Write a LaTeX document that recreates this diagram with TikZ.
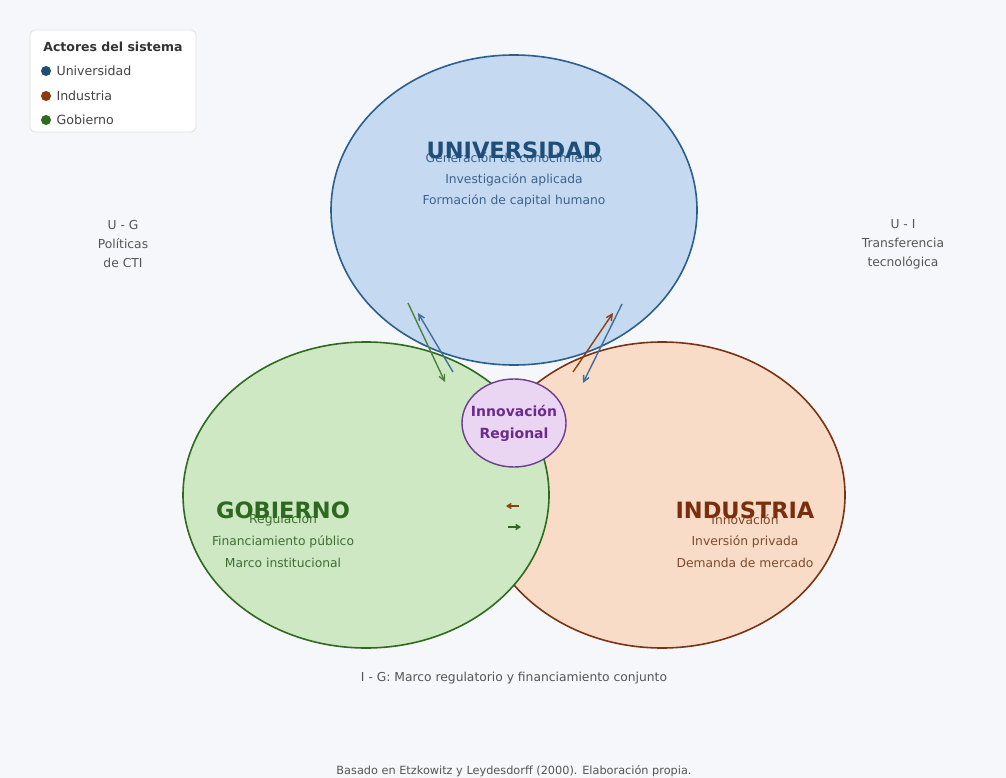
\documentclass[tikz,border=0pt]{standalone}
\usepackage{fontspec}
\setmainfont{DejaVu Sans}
\usetikzlibrary{shapes.geometric,arrows.meta}
\definecolor{bg}{HTML}{F5F7FA}
\definecolor{ufill}{HTML}{C5DAF0}
\definecolor{uedge}{HTML}{2C5F8E}
\definecolor{utext}{HTML}{1F4E79}
\definecolor{ubody}{HTML}{3C6290}
\definecolor{gfill}{HTML}{CDE8C3}
\definecolor{gedge}{HTML}{2E6B1E}
\definecolor{gtext}{HTML}{2D6A1F}
\definecolor{gbody}{HTML}{3F6E30}
\definecolor{ifill}{HTML}{F8DCC7}
\definecolor{iedge}{HTML}{7A3414}
\definecolor{itext}{HTML}{7A2E0E}
\definecolor{ibody}{HTML}{7E4A2C}
\definecolor{cfill}{HTML}{EAD5F3}
\definecolor{cedge}{HTML}{6B3D8A}
\definecolor{ctext}{HTML}{6A2C8C}
\definecolor{greytext}{HTML}{555555}
\definecolor{orangedot}{HTML}{8B3A0E}
\tikzset{
  actor/.style={ellipse, draw, line width=1.6pt, inner sep=0pt},
  title/.style={font=\bfseries\fontsize{22.5}{24}\selectfont, anchor=center},
  body/.style={font=\fontsize{12.3}{14}\selectfont, anchor=center},
  side/.style={font=\fontsize{12.3}{19}\selectfont, text=greytext, align=center, anchor=center},
  rel/.style={line width=1.4pt, -{Straight Barb[length=6pt,width=6pt]}},
  dot/.style={circle, inner sep=0pt, minimum size=10pt},
  legtext/.style={font=\fontsize{12.6}{15}\selectfont, anchor=west, text=greytext!80!black}
}
\begin{document}
\begin{tikzpicture}[x=1pt,y=-1pt]
\fill[bg] (0,0) rectangle (1006,778);
\useasboundingbox (0,0) rectangle (1006,778);

% actors
\node[actor, fill=ifill, draw=iedge, minimum width=366pt, minimum height=306pt] (ind) at (662,495) {};
\node[actor, fill=gfill, draw=gedge, minimum width=366pt, minimum height=306pt] (gob) at (366,495) {};
\node[actor, fill=ufill, draw=uedge, minimum width=366pt, minimum height=310pt] (uni) at (514,210) {};

% texts Universidad
\node[body, text=ubody] (u1) at (514,158) {Generación de conocimiento};
\node[body, text=ubody] (u2) at (514,180) {Investigación aplicada};
\node[body, text=ubody] (u3) at (514,201) {Formación de capital humano};
\node[title, text=utext] (ut) at (514,150) {UNIVERSIDAD};

% texts Gobierno
\node[body, text=gbody] (g1) at (283,520) {Regulación};
\node[body, text=gbody] (g2) at (283,542) {Financiamiento público};
\node[body, text=gbody] (g3) at (283,563) {Marco institucional};
\node[title, text=gtext] (gt) at (283,510) {GOBIERNO};

% texts Industria
\node[body, text=ibody] (i1) at (745,520) {Innovación};
\node[body, text=ibody] (i2) at (745,542) {Inversión privada};
\node[body, text=ibody] (i3) at (745,563) {Demanda de mercado};
\node[title, text=itext] (it) at (745,510) {INDUSTRIA};

% center
\node[ellipse, draw=cedge, fill=cfill, line width=1.4pt, minimum width=104pt, minimum height=88pt, inner sep=0pt] (inn) at (514,423) {};
\node[font=\bfseries\fontsize{14}{22}\selectfont, text=ctext, align=center] (innt) at (inn.center) {Innovación\\Regional};

% relation arrows
\coordinate (a1s) at (408,303); \coordinate (a1e) at (445,382);
\coordinate (a2s) at (453,372); \coordinate (a2e) at (418,313);
\coordinate (a3s) at (573,372); \coordinate (a3e) at (613,313);
\coordinate (a4s) at (622,304); \coordinate (a4e) at (583,383);
\coordinate (a5s) at (519,506); \coordinate (a5e) at (506,506);
\coordinate (a6s) at (508,527); \coordinate (a6e) at (521,527);
\draw[rel, draw=gedge!85] (a1s) -- (a1e);
\draw[rel, draw=uedge!90] (a2s) -- (a2e);
\draw[rel, draw=iedge!85!orange] (a3s) -- (a3e);
\draw[rel, draw=uedge!90] (a4s) -- (a4e);
\draw[line width=1.4pt, -{Straight Barb[length=4pt,width=5pt]}, draw=iedge!85!orange] (a5s) -- (a5e);
\draw[line width=1.4pt, -{Straight Barb[length=4pt,width=5pt]}, draw=gedge] (a6s) -- (a6e);

% side labels
\node[side] (ug) at (123,244) {U - G\\Políticas\\de CTI};
\node[side] (ui) at (903,244) {U - I\\Transferencia\\tecnológica};
\node[side] (ig) at (514,678) {I - G: Marco regulatorio y financiamiento conjunto};
\node[side, font=\fontsize{11.3}{13}\selectfont] (src) at (514,771) {Basado en Etzkowitz y Leydesdorff (2000). Elaboración propia.};

% legend
\node[draw=black!12, fill=white, rounded corners=5pt, line width=0.8pt, minimum width=166pt, minimum height=102pt, inner sep=0pt] (leg) at (113,81) {};
\node[font=\bfseries\fontsize{12.5}{14}\selectfont, text=black!80] (legt) at (113,47) {Actores del sistema};
\node[dot, fill=utext] (d1) at (46,71) {};
\node[dot, fill=orangedot] (d2) at (46,96) {};
\node[dot, fill=gedge] (d3) at (46,120) {};
\node[legtext] (l1) at (53,71) {Universidad};
\node[legtext] (l2) at (53,96) {Industria};
\node[legtext] (l3) at (53,120) {Gobierno};
\end{tikzpicture}
\end{document}
